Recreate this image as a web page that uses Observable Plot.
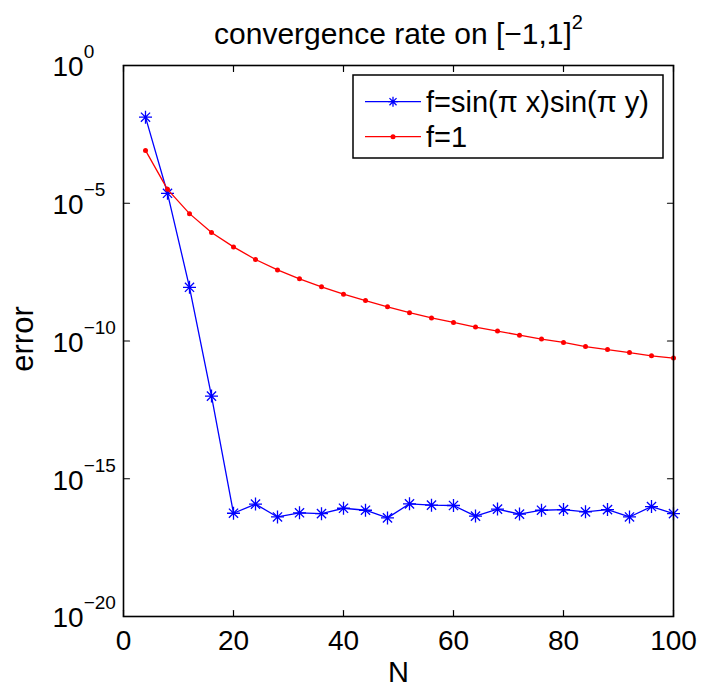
<!DOCTYPE html>
<html>
<head>
<meta charset="utf-8">
<script src="https://cdn.jsdelivr.net/npm/d3@7"></script>
<script src="https://cdn.jsdelivr.net/npm/@observablehq/plot@0.6"></script>
<style>
  html, body { margin: 0; padding: 0; background: #fff; }
  #chart { width: 704px; height: 694px; }
</style>
</head>
<body>
<div id="chart"></div>
<script>
// ---- data ----
const N = [4, 8, 12, 16, 20, 24, 28, 32, 36, 40, 44, 48, 52, 56, 60, 64, 68, 72, 76, 80, 84, 88, 92, 96, 100];
const errSin = [1.33e-2, 2.3e-5, 8.9e-9, 1.0e-12, 5.6e-17, 1.2e-16, 4.1e-17, 5.8e-17, 5.4e-17, 8.5e-17,
                7.2e-17, 3.8e-17, 1.23e-16, 1.1e-16, 1.07e-16, 4.4e-17, 7.9e-17, 5.2e-17, 7.2e-17, 7.6e-17,
                6.3e-17, 7.6e-17, 4.1e-17, 9.8e-17, 5.4e-17];
const errOne = [8.3e-4, 3.2e-5, 4.2e-6, 8.7e-7, 2.6e-7, 9.1e-8, 3.8e-8, 1.8e-8, 9.3e-9, 5.0e-9,
                2.95e-9, 1.74e-9, 1.07e-9, 6.9e-10, 4.7e-10, 3.2e-10, 2.3e-10, 1.62e-10, 1.17e-10, 8.9e-11,
                6.3e-11, 4.9e-11, 3.8e-11, 2.9e-11, 2.4e-11];
const seriesNames = ["f=sin(\u03C0 x)sin(\u03C0 y)", "f=1"];
const seriesColors = ["#0000ff", "#ff0000"];
const xTicks = [0, 20, 40, 60, 80, 100];
const yTicks = [1, 1e-5, 1e-10, 1e-15, 1e-20];
const yTickLabels = ["10^0", "10^\u22125", "10^\u221210", "10^\u221215", "10^\u221220"];
const titleText = "convergence rate on [\u22121,1]^2";
const xLabel = "N";
const yLabel = "error";

// ---- build ----
const sinData = N.map((n, i) => ({N: n, err: errSin[i]}));
const oneData = N.map((n, i) => ({N: n, err: errOne[i]}));

const asterisk = {
  draw(ctx, size) {
    const r = Math.sqrt(size / Math.PI);
    const d = r * Math.SQRT1_2;
    ctx.moveTo(-r, 0); ctx.lineTo(r, 0);
    ctx.moveTo(0, -r); ctx.lineTo(0, r);
    ctx.moveTo(-d, -d); ctx.lineTo(d, d);
    ctx.moveTo(-d, d); ctx.lineTo(d, -d);
  }
};
const tickShape = { draw(ctx, l) { ctx.moveTo(0, 0); ctx.lineTo(0, -l); } };

const FONT = "'Liberation Sans', Arial, Helvetica, sans-serif";
const tickOpts = {length: 6, anchor: "start", shape: tickShape, stroke: "#000", strokeWidth: 1.2};

const svg = Plot.plot({
  width: 704,
  height: 694,
  marginTop: 65,
  marginBottom: 78,
  marginLeft: 123,
  marginRight: 31,
  style: {fontFamily: FONT, fontSize: "28px", color: "#000", background: "#fff"},
  x: {domain: [0, 100]},
  y: {type: "log", domain: [1e-20, 1]},
  marks: [
    // inward tick marks on all four sides
    Plot.vector(xTicks, {x: d => d, frameAnchor: "bottom", rotate: 0, ...tickOpts}),
    Plot.vector(xTicks, {x: d => d, frameAnchor: "top", rotate: 180, ...tickOpts}),
    Plot.vector(yTicks, {y: d => d, frameAnchor: "left", rotate: 90, ...tickOpts}),
    Plot.vector(yTicks, {y: d => d, frameAnchor: "right", rotate: -90, ...tickOpts}),
    // tick labels
    Plot.axisX(xTicks, {anchor: "bottom", tickSize: 0, tickPadding: 14, label: null, fontSize: 28}),
    Plot.axisY(yTicks, {anchor: "left", tickSize: 0, tickPadding: 71, textAnchor: "start", dy: 2,
      tickFormat: d => yTickLabels[yTicks.indexOf(d)], label: null, fontSize: 28}),
    // series
    Plot.line(sinData, {x: "N", y: "err", stroke: seriesColors[0], strokeWidth: 1.3}),
    Plot.dot(sinData, {x: "N", y: "err", symbol: asterisk, r: 6.5, stroke: seriesColors[0], fill: "none", strokeWidth: 1.3}),
    Plot.line(oneData, {x: "N", y: "err", stroke: seriesColors[1], strokeWidth: 1.3}),
    Plot.dot(oneData, {x: "N", y: "err", r: 2.5, fill: seriesColors[1], stroke: "none"}),
    Plot.frame({stroke: "#000", strokeWidth: 1.6}),
    // title and axis labels
    Plot.text([titleText], {frameAnchor: "top", textAnchor: "middle", lineAnchor: "middle", dy: -31.6, fontSize: 30}),
    Plot.text([xLabel], {frameAnchor: "bottom", textAnchor: "middle", lineAnchor: "middle", dy: 56.7, fontSize: 29}),
    Plot.text([yLabel], {frameAnchor: "left", textAnchor: "middle", lineAnchor: "middle", dx: -100, dy: -2, rotate: -90, fontSize: 31})
  ]
});

// superscripts for "base^exp" texts
d3.select(svg).selectAll("text").each(function () {
  const s = this.textContent;
  if (!s.includes("^")) return;
  const [base, exp] = s.split("^");
  const isTitle = base.length > 4;
  const t = d3.select(this);
  t.text(null);
  t.append("tspan").text(base);
  t.append("tspan").attr("dy", isTitle ? -15 : -18).attr("font-size", isTitle ? 20 : 19).text(exp);
});

// legend
const lg = d3.select(svg).append("g").attr("font-family", FONT).attr("font-size", 29)
  .attr("text-anchor", "start");
lg.append("rect").attr("x", 353).attr("y", 75).attr("width", 310).attr("height", 83)
  .attr("fill", "#fff").attr("stroke", "#000").attr("stroke-width", 1.5);
const rowY = [101.7, 136.7];
seriesNames.forEach((name, i) => {
  const y = rowY[i];
  lg.append("line").attr("x1", 365).attr("x2", 421).attr("y1", y).attr("y2", y)
    .attr("stroke", seriesColors[i]).attr("stroke-width", 1.3);
  if (i === 0) {
    lg.append("path").attr("transform", `translate(393,${y})`)
      .attr("d", d3.symbol(asterisk, Math.PI * 5 * 5)())
      .attr("stroke", seriesColors[i]).attr("fill", "none").attr("stroke-width", 1.3);
  } else {
    lg.append("circle").attr("cx", 393).attr("cy", y).attr("r", 2.5).attr("fill", seriesColors[i]);
  }
  lg.append("text").attr("x", 426).attr("y", y).attr("dy", "0.35em").attr("fill", "#000")
    .attr("text-anchor", "start").text(name);
});

document.getElementById("chart").appendChild(svg);
</script>
</body>
</html>
